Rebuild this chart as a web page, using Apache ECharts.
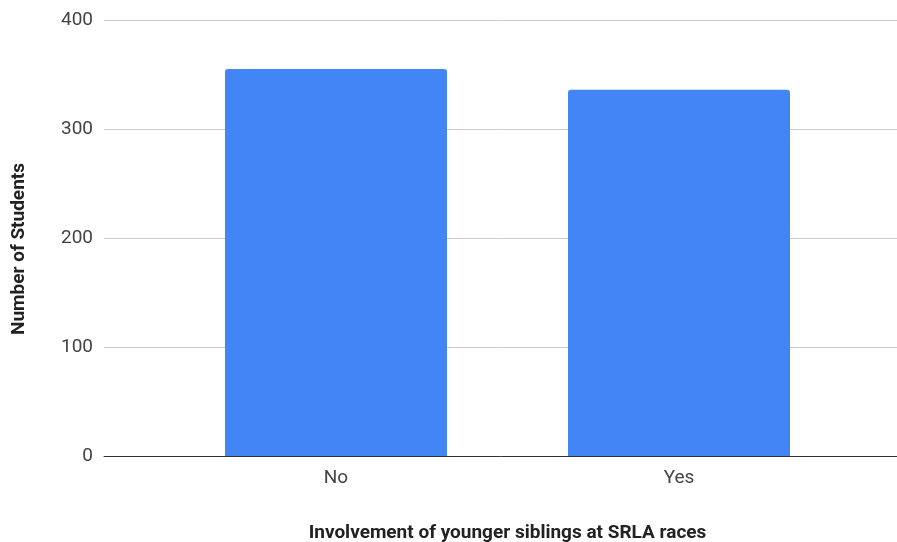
<!DOCTYPE html>
<html><head><meta charset="utf-8">
<script src="https://cdn.jsdelivr.net/npm/echarts@6/dist/echarts.min.js"></script>
<style>html,body{margin:0;padding:0;background:#fff}#c{width:897px;height:542px}</style>
</head><body><div id="c"></div>
<script>
const categories = ['No', 'Yes'];
const students = [355, 336];
const yTicks = [0, 100, 200, 300, 400];

const chart = echarts.init(document.getElementById('c'));
const font = 'Roboto';
chart.setOption({
  animation: false,
  grid: [
    {left: 104, right: 0, top: 20, bottom: 86, containLabel: false, outerBoundsMode: 'none'},
    {left: 164.5, right: 46.5, top: 20, bottom: 86, containLabel: false, outerBoundsMode: 'none'}
  ],
  xAxis: [
    {gridIndex: 0, type: 'category', data: [''], axisTick: {show: false}, axisLabel: {show: false},
     axisLine: {lineStyle: {color: '#333', width: 1}},
     name: 'Involvement of younger siblings at SRLA races', nameLocation: 'middle', nameGap: 68,
     nameTextStyle: {fontFamily: font, fontSize: 19, fontWeight: 'bold', color: '#222', padding: [0, 0, 0, 14]}},
    {gridIndex: 1, type: 'category', data: categories, axisTick: {show: false}, axisLine: {show: false},
     axisLabel: {fontFamily: font, fontSize: 19, color: '#444', margin: 13}}
  ],
  yAxis: [
    {gridIndex: 0, type: 'value', min: yTicks[0], max: yTicks[yTicks.length-1], interval: 100,
     axisLine: {show: false}, axisTick: {show: false},
     axisLabel: {fontFamily: font, fontSize: 19, color: '#444', margin: 11},
     splitLine: {lineStyle: {color: '#ccc', width: 1}},
     name: 'Number of Students', nameLocation: 'middle', nameGap: 75,
     nameTextStyle: {fontFamily: font, fontSize: 19, fontWeight: 'bold', color: '#222', padding: [0, 22, 0, 0]}},
    {gridIndex: 1, type: 'value', min: yTicks[0], max: yTicks[yTicks.length-1], interval: 100, show: false}
  ],
  series: [{
    type: 'bar', xAxisIndex: 1, yAxisIndex: 1, data: students, barWidth: 222,
    itemStyle: {color: '#4285f4', borderRadius: [3, 3, 0, 0]}
  }]
});
</script></body></html>
